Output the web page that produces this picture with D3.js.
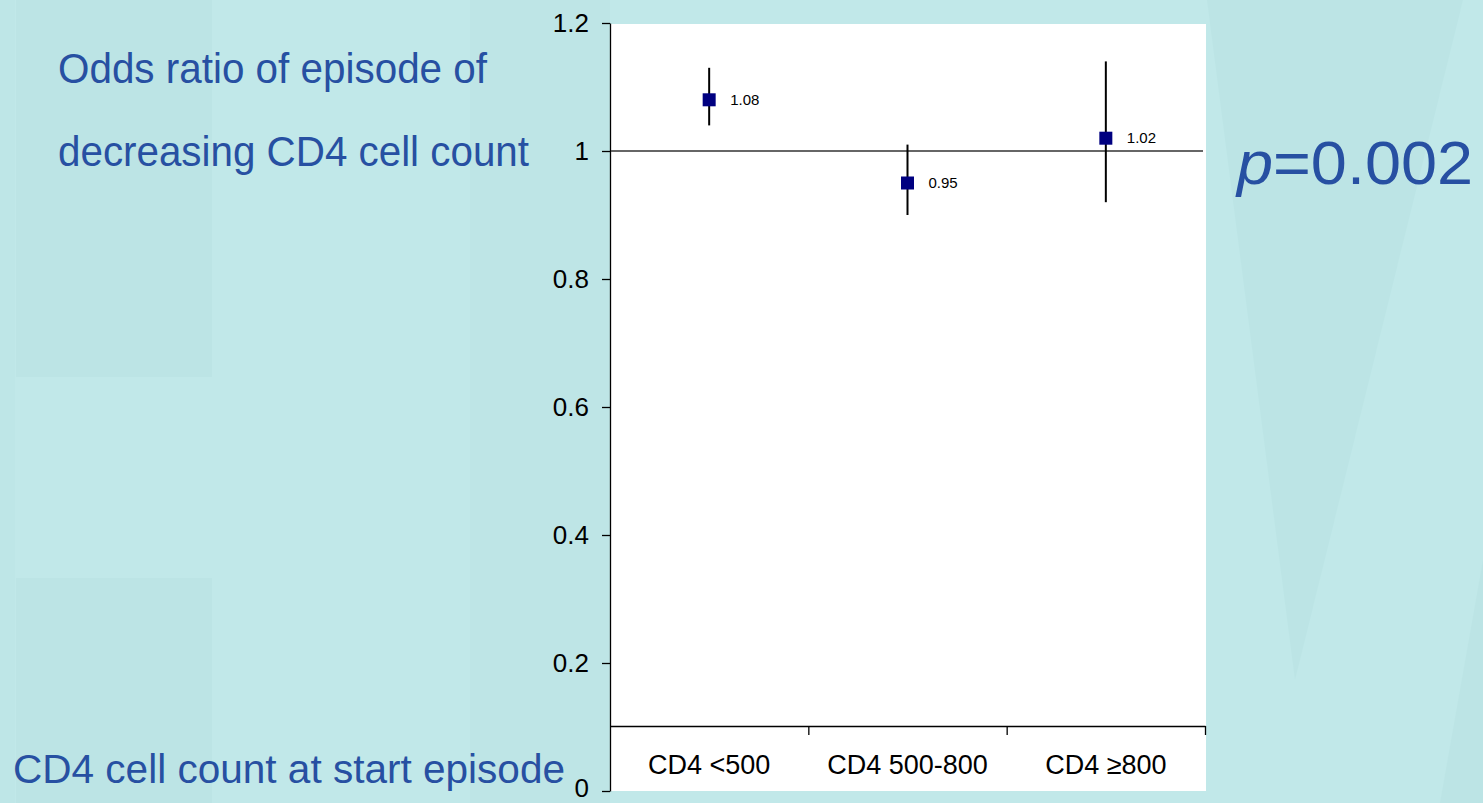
<!doctype html>
<html>
<head>
<meta charset="utf-8">
<script src="https://d3js.org/d3.v7.min.js"></script>
<style>
  body { margin: 0; background: #c1e8e9; }
  svg { display: block; }
</style>
</head>
<body>
<script>

// chart data
var categories = ["CD4 <500", "CD4 500-800", "CD4 \u2265800"];
var oddsRatio  = [1.08, 0.95, 1.02];
var ciLow      = [1.04, 0.90, 0.92];
var ciHigh     = [1.13, 1.01, 1.14];
var pointLabels = ["1.08", "0.95", "1.02"];
var yTicks      = [0, 0.2, 0.4, 0.6, 0.8, 1, 1.2];
var yTickLabels = ["0", "0.2", "0.4", "0.6", "0.8", "1", "1.2"];
var refValue = 1;

var W = 1483, H = 803;
var margin = {top: 23, left: 610, right: 278, bottom: 12},
    width = W - margin.left - margin.right,
    height = H - margin.top - margin.bottom;

var blue = "#2750a2";

var svg = d3.select("body").append("svg")
    .attr("width", W)
    .attr("height", H);

// slide background with faint shapes
svg.append("rect").attr("width", W).attr("height", H).attr("fill", "#c1e8e9");
svg.append("rect").attr("x", 0).attr("y", 0).attr("width", 15).attr("height", H).attr("fill", "#bee6e7");
svg.append("rect").attr("x", 16).attr("y", 0).attr("width", 196).attr("height", 377).attr("fill", "#bce4e5");
svg.append("rect").attr("x", 16).attr("y", 578).attr("width", 196).attr("height", 225).attr("fill", "#bce4e5");
svg.append("rect").attr("x", 470).attr("y", 0).attr("width", 140).attr("height", H).attr("fill", "#bee5e6");
svg.append("path").attr("d", "M1207,0L1463,0L1295,680Z").attr("fill", "#bce4e5");
svg.append("path").attr("d", "M1483,560L1483,803L1440,803Z").attr("fill", "#bce4e5");

var g = svg.append("g")
    .attr("transform", "translate(" + margin.left + "," + margin.top + ")");

var x = d3.scaleBand().domain(categories).range([0, width]);
var xEdge = d3.scaleLinear().domain([0, categories.length]).range([0, width]);
var y = d3.scaleLinear().domain([0, 1.2]).range([height, 0]);

// white plot area
g.append("rect")
    .attr("x", 1).attr("y", 1)
    .attr("width", width)
    .attr("height", height - 1)
    .attr("fill", "#ffffff");

// y axis
var yAxis = g.append("g")
    .call(d3.axisLeft(y)
        .tickValues(yTicks)
        .tickFormat(function(d, i) { return yTickLabels[i]; })
        .tickSize(8)
        .tickSizeOuter(0)
        .tickPadding(13));
yAxis.selectAll("text")
    .attr("font-family", "Liberation Sans, Arial, sans-serif")
    .attr("font-size", "26px")
    .attr("fill", "#000");
// keep the bottom "0" inside the page
yAxis.selectAll("text").filter(function(d) { return d === 0; }).attr("dy", "0.2em");
yAxis.selectAll("line, path").attr("stroke", "#000").attr("stroke-width", 1.3);

// category axis sits 65px above the bottom
var xAxisY = height - 65;
var xTicks = g.append("g")
    .attr("transform", "translate(0," + xAxisY + ")")
    .call(d3.axisBottom(xEdge)
        .tickValues([1, 2, 3])
        .tickSize(9)
        .tickSizeOuter(0)
        .tickFormat(""));
xTicks.selectAll("line, path").attr("stroke", "#000").attr("stroke-width", 1.3);

var xLabels = g.append("g")
    .attr("transform", "translate(0," + xAxisY + ")")
    .call(d3.axisBottom(x).tickSize(0).tickPadding(29));
xLabels.select(".domain").remove();
xLabels.selectAll("text")
    .attr("font-family", "Liberation Sans, Arial, sans-serif")
    .attr("font-size", "27px")
    .attr("fill", "#000");

// reference line at 1
g.append("line")
    .attr("x1", 1).attr("x2", width - 2)
    .attr("y1", y(refValue)).attr("y2", y(refValue))
    .attr("stroke", "#333")
    .attr("stroke-width", 1.6);

var rows = categories.map(function(c, i) {
    return {cat: c, or: oddsRatio[i], lo: ciLow[i], hi: ciHigh[i], label: pointLabels[i]};
});

// error bars
g.selectAll(".ci")
    .data(rows)
    .enter().append("line")
    .attr("class", "ci")
    .attr("x1", function(d) { return x(d.cat) + x.bandwidth() / 2; })
    .attr("x2", function(d) { return x(d.cat) + x.bandwidth() / 2; })
    .attr("y1", function(d) { return y(d.hi); })
    .attr("y2", function(d) { return y(d.lo); })
    .attr("stroke", "#000")
    .attr("stroke-width", 2);

// markers
g.selectAll(".pt")
    .data(rows)
    .enter().append("rect")
    .attr("class", "pt")
    .attr("x", function(d) { return x(d.cat) + x.bandwidth() / 2 - 6.5; })
    .attr("y", function(d) { return y(d.or) - 6.5; })
    .attr("width", 13)
    .attr("height", 13)
    .attr("fill", "#000080");

g.selectAll(".pt-label")
    .data(rows)
    .enter().append("text")
    .attr("class", "pt-label")
    .attr("x", function(d) { return x(d.cat) + x.bandwidth() / 2 + 21; })
    .attr("y", function(d) { return y(d.or); })
    .attr("dy", "0.35em")
    .attr("font-family", "Liberation Sans, Arial, sans-serif")
    .attr("font-size", "15px")
    .attr("fill", "#000")
    .text(function(d) { return d.label; });

// slide titles (condensed look via textLength)
var titleFont = "'Liberation Sans Narrow', 'Arial Narrow', 'Liberation Sans', sans-serif";
svg.append("text")
    .attr("x", 58).attr("y", 83)
    .attr("font-family", titleFont)
    .attr("font-size", "42px")
    .attr("fill", blue)
    .attr("textLength", 429)
    .attr("lengthAdjust", "spacingAndGlyphs")
    .text("Odds ratio of episode of");
svg.append("text")
    .attr("x", 58).attr("y", 166)
    .attr("font-family", titleFont)
    .attr("font-size", "42px")
    .attr("fill", blue)
    .attr("textLength", 471)
    .attr("lengthAdjust", "spacingAndGlyphs")
    .text("decreasing CD4 cell count");
svg.append("text")
    .attr("x", 13).attr("y", 783)
    .attr("font-family", titleFont)
    .attr("font-size", "40px")
    .attr("fill", blue)
    .attr("textLength", 552)
    .attr("lengthAdjust", "spacingAndGlyphs")
    .text("CD4 cell count at start episode");

var pText = svg.append("text")
    .attr("x", 1237).attr("y", 184)
    .attr("font-family", "Liberation Sans, Arial, sans-serif")
    .attr("font-size", "61px")
    .attr("fill", blue)
    .attr("textLength", 236)
    .attr("lengthAdjust", "spacingAndGlyphs");
pText.append("tspan").attr("font-style", "italic").text("p");
pText.append("tspan").text("=0.002");

</script>
</body>
</html>
